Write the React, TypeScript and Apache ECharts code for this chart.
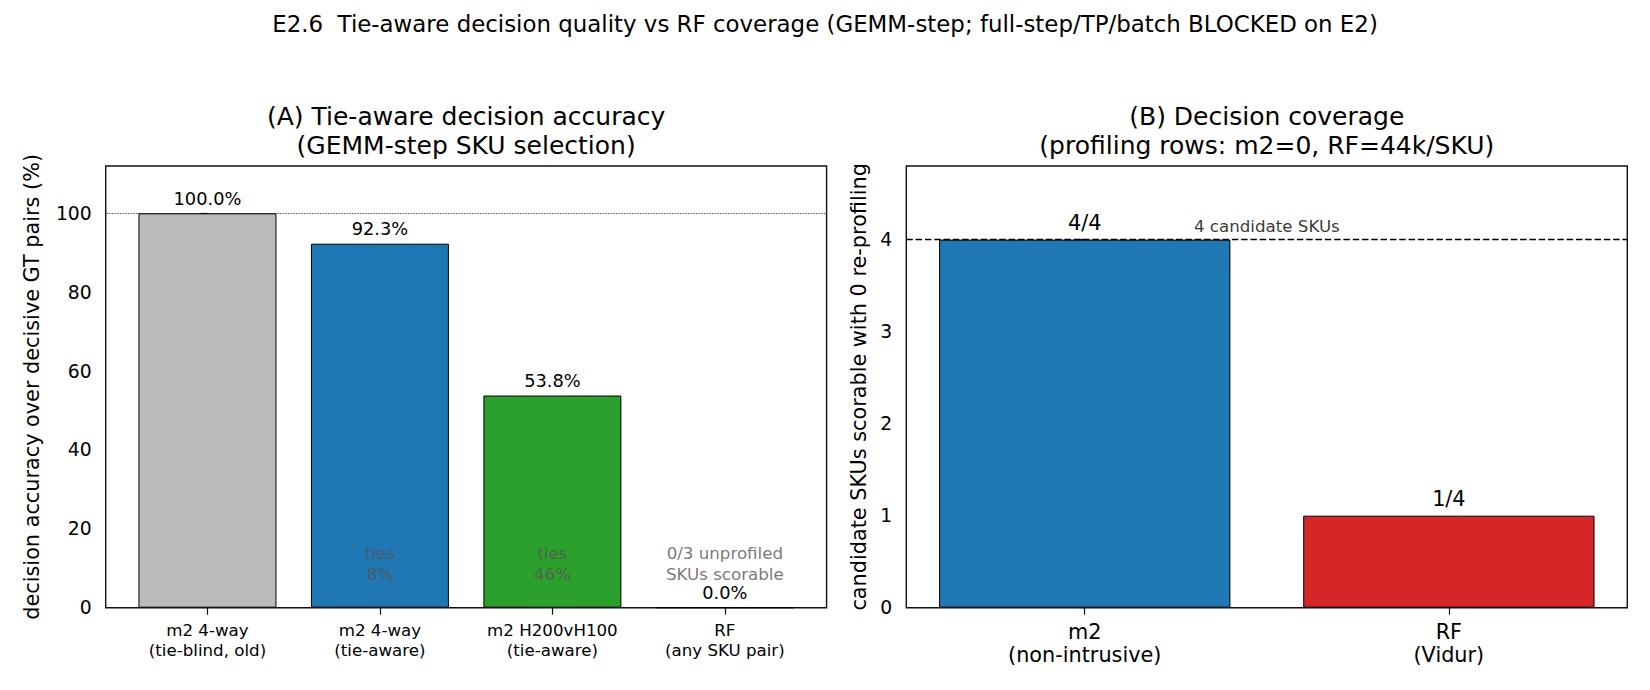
import React, { useEffect, useRef } from "react";
import * as echarts from "echarts";

// ---------- data ----------
const SUPTITLE =
  "E2.6  Tie-aware decision quality vs RF coverage (GEMM-step; full-step/TP/batch BLOCKED on E2)";
const TITLE_A = "(A) Tie-aware decision accuracy\n(GEMM-step SKU selection)";
const TITLE_B = "(B) Decision coverage\n(profiling rows: m2=0, RF=44k/SKU)";

const A_CATEGORIES = [
  "m2 4-way\n(tie-blind, old)",
  "m2 4-way\n(tie-aware)",
  "m2 H200vH100\n(tie-aware)",
  "RF\n(any SKU pair)",
];
const A_VALUES = [100.0, 92.3, 53.8, 0.0];
const A_COLORS = ["#bbbbbb", "#1f77b4", "#2ca02c", "#d62728"];
const A_NOTES = ["", "ties\n8%", "ties\n46%", "0/3 unprofiled\nSKUs scorable"];
const A_NOTE_Y = 11.2;
const A_Y_TICKS = [0, 20, 40, 60, 80, 100];
const A_Y_MAX = 112;
const A_REF = 100;
const A_YNAME = "decision accuracy over decisive GT pairs (%)";

const B_CATEGORIES = ["m2\n(non-intrusive)", "RF\n(Vidur)"];
const B_VALUES = [4, 1];
const B_LABELS = ["4/4", "1/4"];
const B_COLORS = ["#1f77b4", "#d62728"];
const B_Y_TICKS = [0, 1, 2, 3, 4];
const B_Y_MAX = 4.8;
const B_REF = 4;
const B_REF_LABEL = "4 candidate SKUs";
const B_REF_LABEL_POS = [0.3, 4.05];
const B_YNAME = "candidate SKUs scorable with 0 re-profiling";

// ---------- layout ----------
const FONT = "DejaVu Sans";
const GA = { left: 105.7, top: 166, width: 720.9, height: 441.7 };
const GB = { left: 906.3, top: 166, width: 721, height: 441.7 };
const A_XMIN = -0.59, A_XMAX = 3.59;
const B_XMIN = -0.49, B_XMAX = 1.49;
const LINE = "#111";

function xAxisCfg(grid: number, min: number, max: number, cats: string[], fs: number, lh: number) {
  const ticks = cats.map((_, i) => i);
  return {
    type: "value",
    gridIndex: grid,
    min,
    max,
    splitLine: { show: false },
    axisLine: { show: false },
    axisTick: { show: true, customValues: ticks, length: 7, lineStyle: { color: LINE, width: 1.2 } },
    axisLabel: {
      customValues: ticks,
      formatter: (v: number) => cats[Math.round(v)] ?? "",
      fontFamily: FONT,
      fontSize: fs,
      lineHeight: lh,
      color: "#000",
      margin: 13,
    },
  };
}

function yAxisCfg(grid: number, max: number, ticks: number[], name: string, gap: number) {
  return {
    type: "value",
    gridIndex: grid,
    min: 0,
    max,
    name,
    nameLocation: "middle",
    nameGap: gap,
    nameTextStyle: { fontFamily: FONT, fontSize: 20.8, color: "#000" },
    splitLine: { show: false },
    axisLine: { show: false },
    axisTick: { show: true, customValues: ticks, length: 7, lineStyle: { color: LINE, width: 1.2 } },
    axisLabel: { customValues: ticks, fontFamily: FONT, fontSize: 18.75, color: "#000", margin: 14 },
  };
}

export default function App() {
  const ref = useRef<HTMLDivElement>(null);
  useEffect(() => {
    document.body.style.margin = "0";
    const chart = echarts.init(ref.current!, null, { renderer: "svg" });
    const option: any = {
      animation: false,
      backgroundColor: "#fff",
      textStyle: { fontFamily: FONT },
      title: [
        {
          text: SUPTITLE,
          left: "center",
          top: 10,
          padding: 0,
          textStyle: { fontFamily: FONT, fontSize: 22.9, fontWeight: "normal", color: "#000", lineHeight: 27 },
        },
        {
          text: TITLE_A,
          left: GA.left + GA.width / 2,
          textAlign: "center",
          top: 102,
          padding: 0,
          textStyle: { fontFamily: FONT, fontSize: 25, fontWeight: "normal", color: "#000", lineHeight: 29 },
        },
        {
          text: TITLE_B,
          left: GB.left + GB.width / 2,
          textAlign: "center",
          top: 102,
          padding: 0,
          textStyle: { fontFamily: FONT, fontSize: 25, fontWeight: "normal", color: "#000", lineHeight: 29 },
        },
      ],
      grid: [
        { ...GA, show: true, borderColor: LINE, borderWidth: 1.4, backgroundColor: "transparent" },
        { ...GB, show: true, borderColor: LINE, borderWidth: 1.4, backgroundColor: "transparent" },
      ],
      xAxis: [
        xAxisCfg(0, A_XMIN, A_XMAX, A_CATEGORIES, 16.67, 20),
        xAxisCfg(1, B_XMIN, B_XMAX, B_CATEGORIES, 20.8, 23),
      ],
      yAxis: [
        yAxisCfg(0, A_Y_MAX, A_Y_TICKS, A_YNAME, 63),
        yAxisCfg(1, B_Y_MAX, B_Y_TICKS, B_YNAME, 37),
      ],
      series: [
        {
          type: "bar",
          xAxisIndex: 0,
          yAxisIndex: 0,
          barWidth: (GA.width * 0.8) / (A_XMAX - A_XMIN),
          data: A_VALUES.map((v, i) => ({ value: [i, v], itemStyle: { color: A_COLORS[i] } })),
          itemStyle: { borderColor: "#000", borderWidth: 1 },
          label: {
            show: true,
            position: "top",
            distance: 6,
            formatter: (p: any) => p.value[1].toFixed(1) + "%",
            fontFamily: FONT,
            fontSize: 17.8,
            color: "#000",
          },
          markLine: {
            silent: true,
            symbol: ["none", "none"],
            label: { show: false },
            lineStyle: { type: "dotted", color: "#000", width: 0.8 },
            data: [{ yAxis: A_REF }],
          },
          z: 2,
        },
        {
          type: "scatter",
          xAxisIndex: 0,
          yAxisIndex: 0,
          symbolSize: 0,
          silent: true,
          data: A_NOTES.map((t, i) => ({ value: [i, A_NOTE_Y], note: t })).filter((d) => d.note),
          label: {
            show: true,
            position: "inside",
            formatter: (p: any) => p.data.note,
            fontFamily: FONT,
            fontSize: 16.67,
            lineHeight: 21,
            color: "#555",
          },
          z: 3,
        },
        {
          type: "bar",
          xAxisIndex: 1,
          yAxisIndex: 1,
          barWidth: (GB.width * 0.8) / (B_XMAX - B_XMIN),
          data: B_VALUES.map((v, i) => ({ value: [i, v], itemStyle: { color: B_COLORS[i] } })),
          itemStyle: { borderColor: "#000", borderWidth: 1 },
          label: {
            show: true,
            position: "top",
            distance: 6,
            formatter: (p: any) => B_LABELS[p.dataIndex],
            fontFamily: FONT,
            fontSize: 20.8,
            color: "#000",
          },
          markLine: {
            silent: true,
            symbol: ["none", "none"],
            label: { show: false },
            lineStyle: { type: [6.5, 2.8], color: "#000", width: 1.3 },
            data: [{ yAxis: B_REF }],
          },
          z: 2,
        },
        {
          type: "scatter",
          xAxisIndex: 1,
          yAxisIndex: 1,
          symbolSize: 0,
          silent: true,
          data: [{ value: B_REF_LABEL_POS }],
          label: {
            show: true,
            position: [0, 0],
            align: "left",
            verticalAlign: "bottom",
            formatter: () => B_REF_LABEL,
            fontFamily: FONT,
            fontSize: 16.67,
            color: "#000",
          },
          z: 3,
        },
      ],
    };
    chart.setOption(option);
    return () => chart.dispose();
  }, []);
  return <div ref={ref} style={{ width: 1650, height: 690 }} />;
}
